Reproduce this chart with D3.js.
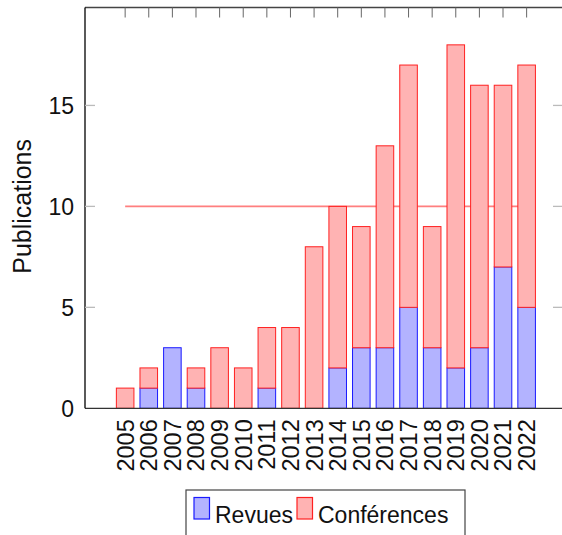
<!DOCTYPE html>
<html>
<head>
<meta charset="utf-8">
<script src="https://cdn.jsdelivr.net/npm/d3@7"></script>
<style>
  body { margin: 0; background: #fff; }
  svg { display: block; }
  text { font-family: "Liberation Sans", Arial, sans-serif; fill: #111; }
</style>
</head>
<body>
<div id="chart"></div>
<script>
'use strict';

// années et publications
var years = [2005, 2006, 2007, 2008, 2009, 2010, 2011, 2012, 2013, 2014, 2015, 2016, 2017, 2018, 2019, 2020, 2021, 2022];
var revues = [0, 1, 3, 1, 0, 0, 1, 0, 0, 2, 3, 3, 5, 3, 2, 3, 7, 5];
var conferences = [1, 1, 0, 1, 3, 2, 3, 4, 8, 8, 6, 10, 12, 6, 16, 13, 9, 12];
var yTicks = [0, 5, 10, 15];
var refLevel = 10;
var seriesNames = ['Revues', 'Conférences'];

(function(){
  var W = 562, H = 535;
  var pLeft = 85, pRight = 563, pTop = 7.5, pBottom = 408.3;

  var svg = d3.select('#chart').append('svg')
    .attr('width', W)
    .attr('height', H);

  var x = d3.scaleLinear().domain([2003.3, 2023.54]).range([pLeft, pRight]);
  var y = d3.scaleLinear().domain([0, 19.85]).range([pBottom, pTop]);
  var half = 0.372;
  var barW = x(2005 + half) - x(2005 - half);

  // ligne de référence (derrière les barres)
  svg.append('line')
    .attr('x1', x(years[0])).attr('x2', x(years[years.length - 1]))
    .attr('y1', y(refLevel)).attr('y2', y(refLevel))
    .attr('stroke', '#ff7f7f')
    .attr('stroke-width', 1.6);

  // barres empilées
  var rows = years.map(function(yr, i){
    return { year: yr, revues: revues[i], conferences: conferences[i] };
  });
  var stack = d3.stack().keys(['revues', 'conferences'])(rows);
  var fills = { revues: '#b3b3ff', conferences: '#ffb3b3' };
  var strokes = { revues: '#1a1aff', conferences: '#ff2020' };

  stack.forEach(function(layer){
    svg.append('g').selectAll('rect')
      .data(layer.filter(function(d){ return d[1] - d[0] > 0; }))
      .enter().append('rect')
      .attr('x', function(d){ return x(d.data.year) - barW / 2; })
      .attr('y', function(d){ return y(d[1]); })
      .attr('width', barW)
      .attr('height', function(d){ return y(d[0]) - y(d[1]); })
      .attr('fill', fills[layer.key])
      .attr('stroke', strokes[layer.key])
      .attr('stroke-width', 1);
  });

  // cadre
  svg.append('line').attr('x1', pLeft).attr('x2', pRight).attr('y1', pTop).attr('y2', pTop)
    .attr('stroke', '#444').attr('stroke-width', 1.3);
  svg.append('line').attr('x1', pLeft).attr('x2', pRight).attr('y1', pBottom).attr('y2', pBottom)
    .attr('stroke', '#333').attr('stroke-width', 1.3);
  svg.append('line').attr('x1', pLeft).attr('x2', pLeft).attr('y1', pTop).attr('y2', pBottom)
    .attr('stroke', '#000').attr('stroke-width', 1.3);

  // graduations haut
  svg.append('g').selectAll('line')
    .data(years).enter().append('line')
    .attr('x1', function(d){ return x(d); }).attr('x2', function(d){ return x(d); })
    .attr('y1', pTop).attr('y2', pTop + 10)
    .attr('stroke', '#666').attr('stroke-width', 1);

  // graduations gauche / droite
  svg.append('g').selectAll('line')
    .data(yTicks.slice(1)).enter().append('line')
    .attr('x1', pLeft).attr('x2', pLeft + 10)
    .attr('y1', function(d){ return y(d); }).attr('y2', function(d){ return y(d); })
    .attr('stroke', '#bbb').attr('stroke-width', 1.3);
  svg.append('g').selectAll('line')
    .data(yTicks.slice(1)).enter().append('line')
    .attr('x1', pRight - 10).attr('x2', pRight)
    .attr('y1', function(d){ return y(d); }).attr('y2', function(d){ return y(d); })
    .attr('stroke', '#bbb').attr('stroke-width', 1.3);

  // étiquettes y
  svg.append('g').selectAll('text')
    .data(yTicks).enter().append('text')
    .attr('x', pLeft - 11)
    .attr('y', function(d){ return y(d); })
    .attr('dy', '0.36em')
    .attr('text-anchor', 'end')
    .style('font-size', '23px')
    .text(function(d){ return d; });

  // étiquettes x (verticales)
  svg.append('g').selectAll('text')
    .data(years).enter().append('text')
    .attr('transform', function(d){ return 'translate(' + x(d) + ',' + (pBottom + 11) + ') rotate(-90)'; })
    .attr('dy', '0.36em')
    .attr('text-anchor', 'end')
    .style('font-size', '23.5px')
    .text(function(d){ return d; });

  // titre axe y
  svg.append('text')
    .attr('transform', 'translate(22,' + y(refLevel) + ') rotate(-90)')
    .attr('dy', '0.36em')
    .attr('text-anchor', 'middle')
    .style('font-size', '25px')
    .text('Publications');

  // légende
  var lg = svg.append('g');
  lg.append('rect')
    .attr('x', 186).attr('y', 490).attr('width', 279).attr('height', 60)
    .attr('fill', '#fff').attr('stroke', '#444').attr('stroke-width', 1.2);
  var legendItems = [
    { name: seriesNames[0], fill: fills.revues, stroke: strokes.revues, sx: 194, tx: 215 },
    { name: seriesNames[1], fill: fills.conferences, stroke: strokes.conferences, sx: 297, tx: 318 }
  ];
  legendItems.forEach(function(it){
    lg.append('rect')
      .attr('x', it.sx).attr('y', 497.5).attr('width', 15.5).attr('height', 21.5)
      .attr('fill', it.fill).attr('stroke', it.stroke).attr('stroke-width', 1.2);
    lg.append('text')
      .attr('x', it.tx).attr('y', 523)
      .style('font-size', '23px')
      .text(it.name);
  });
})();
</script>
</body>
</html>
